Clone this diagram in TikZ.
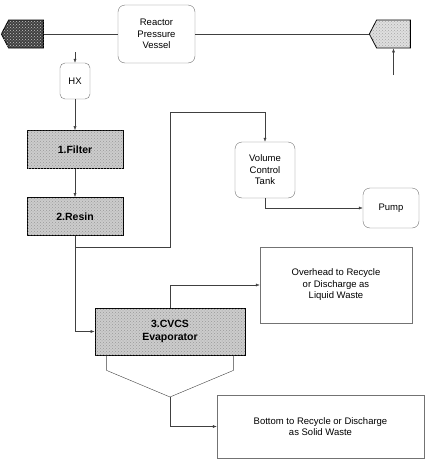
\documentclass[tikz,border=0pt]{standalone}
\usepackage{fontspec}
\setmainfont{Liberation Sans}
\usetikzlibrary{positioning, arrows.meta, calc, shapes.symbols, patterns}
\newcommand{\stagename}[1]{{\bfseries #1}}
\newcommand{\stackgap}{28pt}
\newcommand{\cornerinset}{12}
\newcommand{\vdrop}{15}

\begin{document}
\begin{tikzpicture}[
    x=1pt, y=-1pt,
    font=\fontsize{9.5}{11.5}\selectfont,
    vessel/.style={
        rectangle,
        draw=black!55,
        thin,
        rounded corners=7pt,
        align=center,
        inner sep=2pt,
        anchor=center
    },
    stage/.style={
        rectangle,
        draw=black,
        thick,
        fill=gray!40,
        postaction={pattern=crosshatch dots, pattern color=gray!80},
        align=center,
        minimum width=96pt,
        minimum height=38pt,
        inner sep=2pt,
        font=\fontsize{10.5}{12.5}\selectfont
    },
    leg/.style={
        signal,
        signal to=west,
        signal pointer angle=125,
        draw=black,
        thick,
        inner sep=0pt,
        minimum width=42pt,
        minimum height=28pt
    },
    outlet/.style={
        rectangle,
        draw=black!55,
        thin,
        align=center,
        inner sep=2pt
    },
    pipe/.style={draw=black!75, thin},
    flow/.style={draw=black!75, thin, -{Latex[length=4pt,width=3pt]}}
]
    \useasboundingbox (0,0) rectangle (425,464);

    % --- reactor coolant loop ---
    \node[vessel, minimum width=77pt, minimum height=58pt] (rpv) at (156.5,34) {Reactor\\Pressure\\Vessel};
    \node[leg, fill=black!75, postaction={pattern=crosshatch dots, pattern color=gray!45}] (hotleg) at (26,34) {};
    \node[leg, fill=gray!25, postaction={pattern=crosshatch dots, pattern color=gray!70}, minimum width=41pt] (coldleg) at (393.5,34) {};

    % --- letdown train ---
    \node[vessel, minimum width=30pt, minimum height=36pt, rounded corners=5pt] (hx) at (75,81) {HX};
    \node[stage, below=31pt of hx] (filter) {\stagename{1.Filter}};
    \node[stage, below=\stackgap of filter] (resin) {\stagename{2.Resin}};

    % --- volume control tank and pump ---
    \node[vessel, minimum width=60pt, minimum height=56pt] (vct) at (265,170) {Volume\\Control\\Tank};
    \node[vessel, minimum width=56pt, minimum height=40pt] (pump) at (391,208) {Pump};

    % --- evaporator and its outlets ---
    \node[stage, minimum width=150pt, minimum height=47pt] (evap) at (170,331.5) {\stagename{3.CVCS}\\\stagename{Evaporator}};
    \node[outlet, minimum width=152pt, minimum height=76pt] (overhead) at (336,285) {Overhead to Recycle\\or Discharge as\\Liquid Waste};
    \node[outlet, minimum width=207pt, minimum height=63pt] (bottoms) at (320.5,426.5) {Bottom to Recycle or Discharge\\as Solid Waste};

    % --- bend points ---
    \coordinate (letdown)  at (75,52);
    \coordinate (charging) at (393.5,75);
    \coordinate (split)    at (75,247);
    \coordinate (bypass)   at (170,112);
    \coordinate (vtip)     at (170,397);

    % --- piping ---
    \draw[pipe] (hotleg.east) -- (rpv.west);
    \draw[pipe] (rpv.east) -- (coldleg.west);
    \draw[flow] (letdown) -- (hx.north);
    \draw[flow] (charging) -- (coldleg.south);
    \draw[flow] (hx) -- (filter);
    \draw[flow] (filter) -- (resin);
    \draw[flow] (resin.south) -- (split) -| (bypass) -| (vct.north);
    \draw[flow] (split) |- (evap.west);
    \draw[flow] (vct.south) |- (pump.west);
    \draw[flow] (evap.north) |- (overhead.west);

    % --- evaporator bottoms hopper ---
    \draw[pipe] ($(evap.south west)+(\cornerinset,0)$) -- ++(0,\vdrop) -- (vtip)
        -- ($(evap.south east)+(-\cornerinset,\vdrop)$) -- ($(evap.south east)+(-\cornerinset,0)$);
    \draw[flow] (vtip) |- (bottoms.west);

\end{tikzpicture}
\end{document}
